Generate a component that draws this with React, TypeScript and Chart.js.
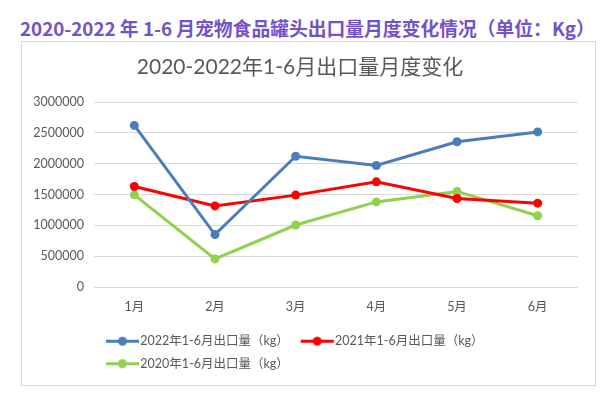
import React, { useEffect, useRef } from 'react';
import { Chart, registerables } from 'chart.js';

Chart.register(...registerables);

const pageTitle = '2020-2022 年 1-6 月宠物食品罐头出口量月度变化情况（单位：Kg）';
const chartTitle = '2020-2022年1-6月出口量月度变化';
const months = ['1月', '2月', '3月', '4月', '5月', '6月'];
const series2022 = [2620000, 850000, 2120000, 1970000, 2355000, 2515000];
const series2021 = [1630000, 1315000, 1490000, 1705000, 1435000, 1360000];
const series2020 = [1495000, 455000, 1005000, 1380000, 1550000, 1155000];
const seriesNames = ['2022年1-6月出口量（kg）', '2021年1-6月出口量（kg）', '2020年1-6月出口量（kg）'];
const seriesColors = ['#4a7ebb', '#ff0000', '#92d050'];
const yMin = 0;
const yMax = 3000000;
const yStep = 500000;

const FONT = "Lato, 'Noto Sans CJK SC', sans-serif";
const TEXT = '#595959';

function makeMarker(color: string) {
  const c = document.createElement('canvas');
  c.width = 42;
  c.height = 11;
  const ctx = c.getContext('2d')!;
  ctx.strokeStyle = color;
  ctx.lineWidth = 3;
  ctx.beginPath();
  ctx.moveTo(8, 5.5);
  ctx.lineTo(41, 5.5);
  ctx.stroke();
  ctx.fillStyle = color;
  ctx.beginPath();
  ctx.arc(24.5, 5.5, 4.5, 0, Math.PI * 2);
  ctx.fill();
  return c;
}

export default function App() {
  const ref = useRef<HTMLCanvasElement | null>(null);

  useEffect(() => {
    if (!ref.current) return;
    const markers = seriesColors.map(makeMarker);
    const allSeries = [series2022, series2021, series2020];
    const chart = new Chart(ref.current, {
      type: 'line',
      data: {
        labels: months,
        datasets: allSeries.map((d, i) => ({
          label: seriesNames[i],
          data: d,
          borderColor: seriesColors[i],
          backgroundColor: seriesColors[i],
          pointBackgroundColor: seriesColors[i],
          pointBorderColor: seriesColors[i],
          borderWidth: 3,
          pointRadius: 4.5,
          pointBorderWidth: 0,
          tension: 0,
        })),
      },
      options: {
        responsive: false,
        animation: false,
        layout: { padding: { top: 0, left: 0, right: 17, bottom: 5 } },
        plugins: {
          title: {
            display: true,
            text: chartTitle,
            color: TEXT,
            font: { family: FONT, size: 21, weight: 'normal' },
            padding: { top: 13, bottom: 21.8 },
          },
          legend: {
            position: 'bottom',
            align: 'start',
            fullSize: false,
            labels: {
              usePointStyle: true,
              pointStyleWidth: 30,
              padding: 10,
              color: TEXT,
              font: { family: FONT, size: 12.5 },
              generateLabels: (c: any) => {
                const items = (Chart.defaults as any).plugins.legend.labels.generateLabels(c);
                return items.map((it: any) => ({ ...it, pointStyle: markers[it.datasetIndex], fontColor: TEXT }));
              },
            },
          },
          tooltip: { enabled: false },
        },
        scales: {
          x: {
            offset: true,
            grid: { display: false, drawTicks: false },
            border: { display: false },
            ticks: { color: TEXT, font: { family: FONT, size: 12.5 }, padding: 12 },
            afterFit: (s: any) => { s.height = 38; },
          },
          y: {
            min: yMin,
            max: yMax,
            grid: { color: '#d9d9d9', lineWidth: 1, drawTicks: false },
            border: { display: false },
            ticks: {
              stepSize: yStep,
              color: TEXT,
              font: { family: FONT, size: 12.5 },
              padding: 10,
              callback: (v: any) => String(v),
            },
            afterFit: (s: any) => { s.width = 72; },
          },
        },
      } as any,
    });
    return () => chart.destroy();
  }, []);

  return (
    <div style={{ position: 'absolute', left: 0, top: 0, width: 616, height: 397, background: '#fff' }}>
      <div
        style={{
          position: 'absolute',
          left: 20,
          top: 17,
          whiteSpace: 'nowrap',
          fontFamily: "'Noto Sans CJK SC', sans-serif",
          fontWeight: 'bold',
          fontSize: 18.8,
          lineHeight: '22px',
          color: '#7452c8',
        }}
      >
        {pageTitle}
      </div>
      <div
        style={{
          position: 'absolute',
          left: 21,
          top: 41,
          width: 575,
          height: 345,
          border: '1px solid #d9d9d9',
          boxSizing: 'border-box',
          background: '#fff',
        }}
      >
        <canvas ref={ref} width={573} height={343} style={{ display: 'block', width: 573, height: 343 }} />
      </div>
    </div>
  );
}
